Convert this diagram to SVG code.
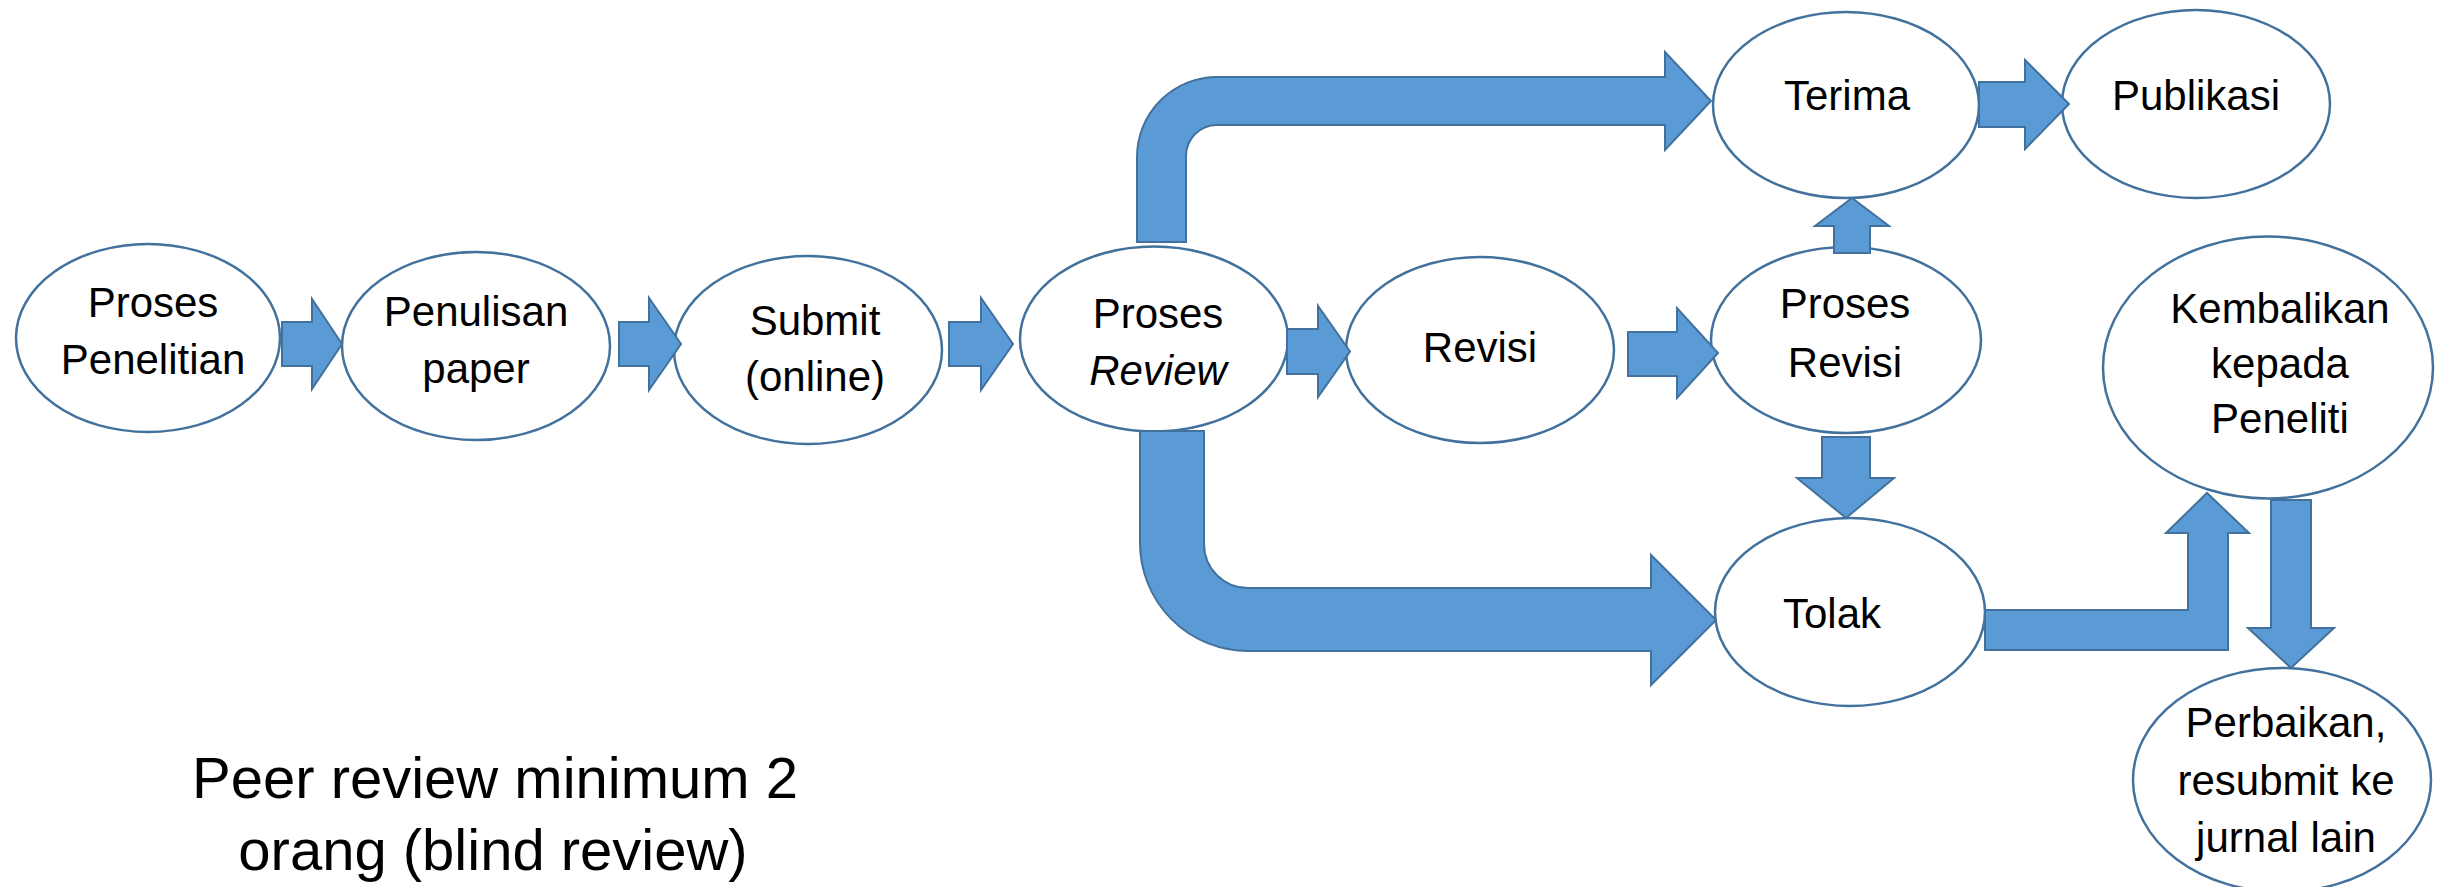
<svg xmlns="http://www.w3.org/2000/svg" width="2440" height="887" viewBox="0 0 2440 887">
<style>
.node{fill:#FFFFFF;stroke:#41719C;stroke-width:2.5}
.arr{fill:#5B9BD5;stroke:#41719C;stroke-width:2;stroke-linejoin:miter}
.lbl{font-family:"Liberation Sans",Arial,sans-serif;font-size:42px;fill:#000000;text-anchor:middle}
.note{font-family:"Liberation Sans",Arial,sans-serif;font-size:58px;fill:#000000;text-anchor:middle}
</style>
<rect x="0" y="0" width="2440" height="887" fill="#FFFFFF"/>
<g id="n1"><ellipse class="node" cx="148" cy="338" rx="132" ry="94"/><text class="lbl" x="153" y="317">Proses</text><text class="lbl" x="153" y="374">Penelitian</text></g>
<g id="n2"><ellipse class="node" cx="476" cy="346" rx="134" ry="94"/><text class="lbl" x="476" y="326">Penulisan</text><text class="lbl" x="476" y="383">paper</text></g>
<g id="n3"><ellipse class="node" cx="808" cy="350" rx="134" ry="94"/><text class="lbl" x="815" y="335">Submit</text><text class="lbl" x="815" y="391">(online)</text></g>
<g id="n4"><ellipse class="node" cx="1154" cy="339" rx="134" ry="92.5"/><text class="lbl" x="1158" y="328">Proses</text><text class="lbl" x="1158" y="385" font-style="italic">Review</text></g>
<g id="n5"><ellipse class="node" cx="1480" cy="350" rx="134" ry="93"/><text class="lbl" x="1480" y="362">Revisi</text></g>
<g id="n6"><ellipse class="node" cx="1846" cy="340" rx="135" ry="93"/><text class="lbl" x="1845" y="318">Proses</text><text class="lbl" x="1845" y="377">Revisi</text></g>
<g id="n7"><ellipse class="node" cx="1846" cy="105" rx="133" ry="93"/><text class="lbl" x="1847" y="110">Terima</text></g>
<g id="n8"><ellipse class="node" cx="2196" cy="104" rx="134" ry="94"/><text class="lbl" x="2196" y="110">Publikasi</text></g>
<g id="n9"><ellipse class="node" cx="2268" cy="367.5" rx="165" ry="131"/><text class="lbl" x="2280" y="323">Kembalikan</text><text class="lbl" x="2280" y="378">kepada</text><text class="lbl" x="2280" y="433">Peneliti</text></g>
<g id="n10"><ellipse class="node" cx="1850" cy="612" rx="135" ry="94"/><text class="lbl" x="1832" y="628">Tolak</text></g>
<g id="n11"><ellipse class="node" cx="2282" cy="780" rx="149" ry="112"/><text class="lbl" x="2286" y="737">Perbaikan,</text><text class="lbl" x="2286" y="795">resubmit ke</text><text class="lbl" x="2286" y="852">jurnal lain</text></g>
<g id="connectors">
<path class="arr" d="M282,322 H312 V299 L342,344 L312,389 V366 H282 Z"/>
<path class="arr" d="M619,322 H649 V298 L681,344 L649,390 V366 H619 Z"/>
<path class="arr" d="M949,322 H981 V298 L1013,344 L981,390 V366 H949 Z"/>
<path class="arr" d="M1287,329 H1318 V306 L1350,351.5 L1318,397 V374 H1287 Z"/>
<path class="arr" d="M1628,332 H1677 V308 L1718,353 L1677,398 V376 H1628 Z"/>
<path class="arr" d="M1979,82 H2025 V60 L2069,104 L2025,149 V127 H1979 Z"/>
<path class="arr" d="M1834,253 V226 H1815 L1852,198 L1889,226 H1870 V253 Z"/>
<path class="arr" d="M1822,437 H1870 V478 H1894 L1846,518 L1797,478 H1822 Z"/>
<path class="arr" d="M1985,610 H2188 V533 H2166 L2207,493 L2249,533 H2228 V650 H1985 Z"/>
<path class="arr" d="M2271,500 H2311 V628 H2334 L2291,668 L2248,628 H2271 Z"/>
<path class="arr" d="M1137,242 V157 A80,80 0 0 1 1217,77 H1665 V52 L1711,101 L1665,150 V125 H1217 A31,31 0 0 0 1186,156 V242 Z"/>
<path class="arr" d="M1140,431 H1204 V544 A44,44 0 0 0 1248,588 H1651 V555 L1716,620 L1651,685 V651 H1248 A108,108 0 0 1 1140,543 Z"/>
</g>
<g id="note"><text class="note" x="495" y="798">Peer review minimum 2</text><text class="note" x="493" y="870">orang (blind review)</text></g>
</svg>
